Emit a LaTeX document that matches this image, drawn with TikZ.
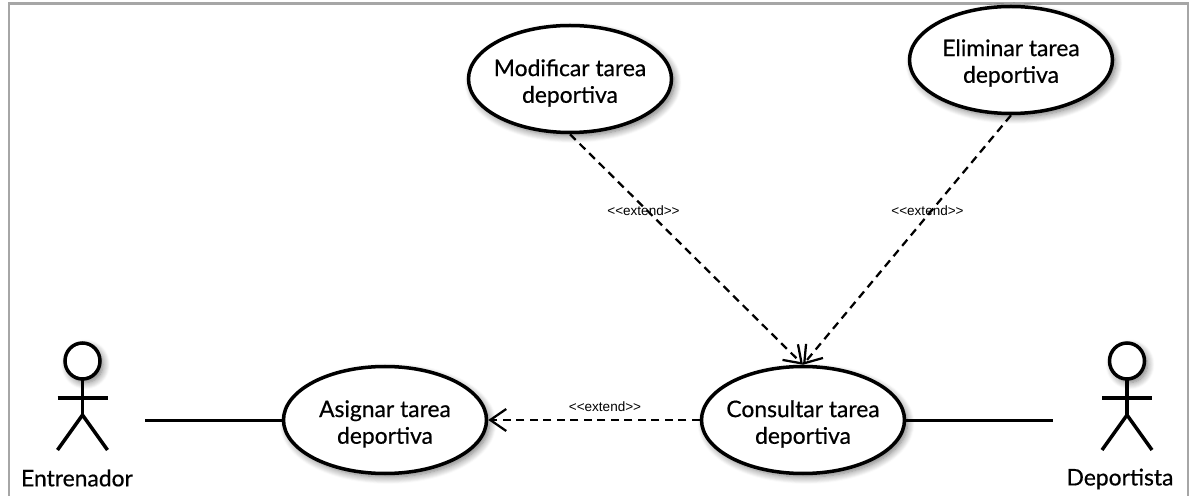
\documentclass[tikz,border=0pt]{standalone}
\usepackage{fontspec}
\setmainfont[FakeBold=0.5]{Lato}
\newfontfamily\stereofont{Liberation Sans}
\usepackage{tikz}
\usetikzlibrary{arrows.meta,shapes.geometric,shadows.blur}
\tikzset{
	softshadow/.style={blur shadow={shadow xshift=0.06cm, shadow yshift=-0.07cm, shadow blur steps=8, shadow blur radius=0.14cm, shadow opacity=55}},
	usecase/.style={ellipse, draw, line width=0.07cm, fill=white, minimum width=4.06cm, minimum height=2.14cm, inner xsep=-1cm, inner ysep=-0.5cm, align=center, font=\fontsize{13}{15.2}\selectfont, softshadow},
	usecasetext/.style={align=center, font=\fontsize{13}{15.2}\selectfont, inner sep=0},
	actorlabel/.style={font=\fontsize{13}{15}\selectfont},
	stereolabel/.style={font=\stereofont\fontsize{7.7}{9}\selectfont, inner sep=0},
	assoc/.style={line width=0.07cm},
	extendline/.style={line width=0.045cm, dash pattern=on 0.16cm off 0.11cm, -{Straight Barb[length=0.32cm, width=0.44cm, line width=0.045cm]}}
}
\def\stickman(#1,#2){
	\draw[line width=0.07cm, fill=white, softshadow] (#1, #2+1.18) circle [x radius=0.35, y radius=0.36];
	\draw[line width=0.07cm] (#1, #2+0.82) -- (#1, #2+0.1);
	\draw[line width=0.07cm] (#1-0.5, #2+0.44) -- (#1+0.5, #2+0.44);
	\draw[line width=0.07cm] (#1-0.5, #2-0.6) -- (#1, #2+0.1) -- (#1+0.5, #2-0.6);
}

\begin{document}
\begin{tikzpicture}
	\useasboundingbox (0, 0) rectangle (23.82, 9.9);

	% frame
	\draw[line width=0.05cm, color=black!35] (0.18, -0.1) -- (0.18, 9.83) -- (23.76, 9.83) -- (23.76, -0.1);

	% actors
	\stickman(1.65, 1.5)
	\stickman(22.54, 1.5)
	\node[actorlabel] (entrenador) at (1.54, 0.34) {Entrenador};
	\node[actorlabel] (deportista) at (22.4, 0.32) {Deportista};
	\coordinate (entrenadorend) at (2.9, 1.49);
	\coordinate (deportistaend) at (21.06, 1.49);

	% associations
	\draw[assoc] (entrenadorend) -- (5.66, 1.49);
	\draw[assoc] (18.1, 1.49) -- (deportistaend);

	% use cases
	\node[usecase] (modificar) at (11.4, 8.32) {};
	\node[usecase] (eliminar) at (20.22, 8.7) {};
	\node[usecase] (asignar) at (7.7, 1.5) {};
	\node[usecase] (consultar) at (16.06, 1.5) {};
	\node[usecasetext] (modificartext) at (11.4, 8.24) {Modificar tarea\\deportiva};
	\node[usecasetext] (eliminartext) at (20.22, 8.64) {Eliminar tarea\\deportiva};
	\node[usecasetext] (asignartext) at (7.7, 1.42) {Asignar tarea\\deportiva};
	\node[usecasetext] (consultartext) at (16.06, 1.42) {Consultar tarea\\deportiva};

	% extends
	\draw[extendline] (modificar.south) -- (consultar.north);
	\draw[extendline] (eliminar.south) -- (consultar.north);
	\draw[extendline] (consultar) -- (asignar);

	\node[stereolabel] (extenda) at (12.87, 5.68) {\textless\textless extend\textgreater\textgreater};
	\node[stereolabel] (extendb) at (18.55, 5.68) {\textless\textless extend\textgreater\textgreater};
	\node[stereolabel] (extendc) at (12.1, 1.76) {\textless\textless extend\textgreater\textgreater};
\end{tikzpicture}
\end{document}
